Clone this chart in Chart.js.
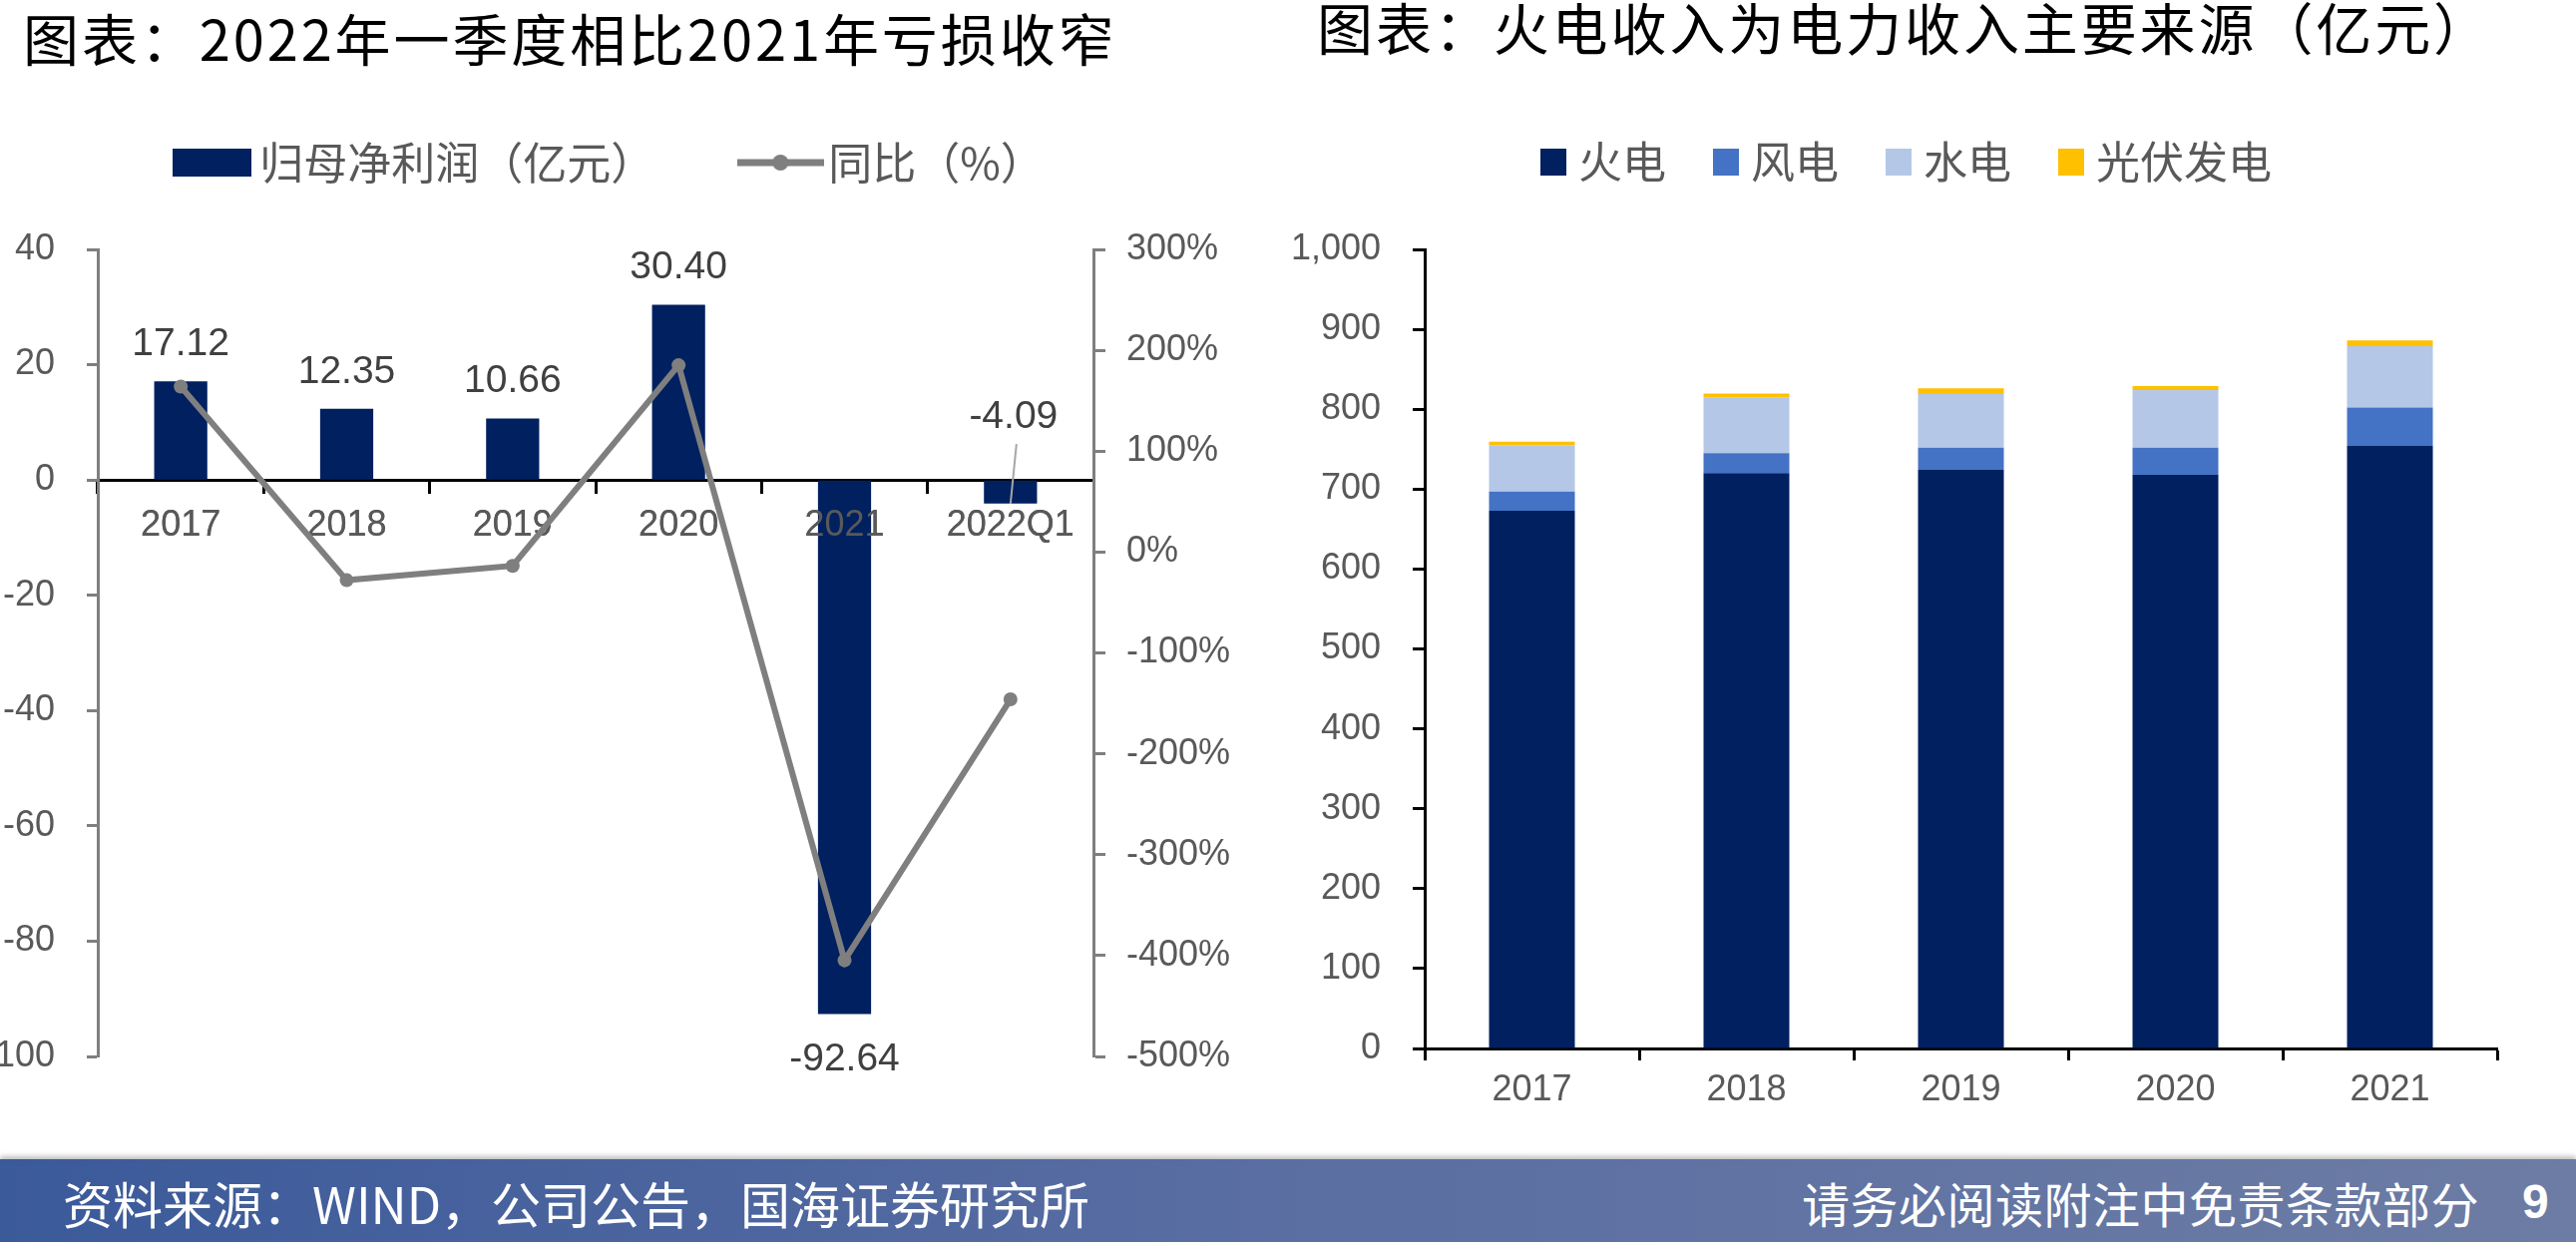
<!DOCTYPE html>
<html><head><meta charset="utf-8">
<script src="https://cdn.jsdelivr.net/npm/chart.js@4.4.0/dist/chart.umd.min.js"></script>
<style>
html,body{margin:0;padding:0;background:#fff;width:2582px;height:1245px;overflow:hidden;position:relative;font-family:"Noto Sans CJK SC",sans-serif;}
.title{position:absolute;font-size:56px;line-height:56px;color:#000;white-space:nowrap;}
#t1{left:23px;top:9px;letter-spacing:2.9px;}
#t2{left:1320px;top:-2px;letter-spacing:2.9px;}
canvas{position:absolute;top:0;}
#c1{left:0;}
#c2{left:1290px;}
#footer{position:absolute;left:0;top:1162px;width:2582px;height:83px;background:linear-gradient(to right,#3b5a9a,#5a6ea2 50%,#6c7ca4);box-shadow:0 -3px 5px rgba(0,0,0,0.25);}
.ft{position:absolute;color:#fff;font-size:50px;line-height:50px;white-space:nowrap;}
</style></head><body>
<div class="title" id="t1">图表：2022年一季度相比2021年亏损收窄</div>
<div class="title" id="t2">图表：火电收入为电力收入主要来源（亿元）</div>
<canvas id="c1" width="1240" height="1150"></canvas>
<canvas id="c2" width="1251" height="1150"></canvas>
<div id="footer">
  <div class="ft" style="left:63px;top:18px;">资料来源：WIND，公司公告，国海证券研究所</div>
  <div class="ft" style="left:1806px;top:19px;font-size:48px;line-height:48px;letter-spacing:0.5px;">请务必阅读附注中免责条款部分</div>
  <div class="ft" style="left:2528px;top:19px;font-size:48px;line-height:48px;font-weight:bold;font-family:'Liberation Sans',Arial,sans-serif;">9</div>
</div>
<script>
// ---------- data: left chart ----------
const profitCategories = ['2017', '2018', '2019', '2020', '2021', '2022Q1'];
const netProfit = [17.12, 12.35, 10.66, 30.40, -92.64, -4.09];
const yoyPct = [164, -27.9, -13.7, 185.2, -404.7, -146];
const profitSeriesNames = ['归母净利润（亿元）', '同比（%）'];
const leftAxisRange = [-100, 40, 20];
const rightAxisRange = [-500, 300, 100];

// ---------- data: right chart ----------
const revenueYears = ['2017', '2018', '2019', '2020', '2021'];
const thermalRev = [673, 720, 724, 718, 754];
const windRev = [24, 25, 28, 34, 48];
const hydroRev = [58, 70, 67, 72, 77];
const solarRev = [4.5, 4.5, 7, 5, 7];
const revenueSeriesNames = ['火电', '风电', '水电', '光伏发电'];
const revenueAxisRange = [0, 1000, 100];

Chart.defaults.font.family = '"Liberation Sans", Arial, sans-serif';
Chart.defaults.animation = false;

const NAVY = '#002060', GRAY = '#7f7f7f', TICK = '#595959';

function makeImg(w, h, draw) {
  const c = document.createElement('canvas');
  c.width = w; c.height = h;
  draw(c.getContext('2d'), w, h);
  return c;
}
const barLegendImg = makeImg(79, 28, (g, w, h) => { g.fillStyle = NAVY; g.fillRect(0, 0, w, h); });
const lineLegendImg = makeImg(87, 20, (g, w, h) => {
  g.strokeStyle = GRAY; g.lineWidth = 7;
  g.beginPath(); g.moveTo(0, h / 2); g.lineTo(w, h / 2); g.stroke();
  g.fillStyle = GRAY; g.beginPath(); g.arc(w / 2, h / 2, 8, 0, Math.PI * 2); g.fill();
});
const revColors = ['#002060', '#4472C4', '#B4C7E7', '#FFC000'];
const revLegendImgs = revColors.map(col => makeImg(26, 27, (g, w, h) => { g.fillStyle = col; g.fillRect(0, 0, w, h); }));

function legendMargin(extra) {
  return {
    id: 'legendMargin',
    beforeInit(chart) {
      const fit = chart.legend.fit;
      chart.legend.fit = function () { fit.bind(chart.legend)(); this.height += extra; };
    }
  };
}

// category labels are painted over the bars (but under the line), as in the original
const labelsOverBars = {
  id: 'labelsOverBars',
  afterDatasetDraw(chart, args) {
    if (args.index === 0) chart.scales.x.drawLabels(chart.chartArea);
  }
};

const barLabels = {
  id: 'barLabels',
  afterDatasetsDraw(chart) {
    const meta = chart.getDatasetMeta(0);
    const ctx = chart.ctx;
    const zero = chart.scales.y.getPixelForValue(0);
    ctx.save();
    ctx.font = '39px "Liberation Sans", Arial, sans-serif';
    ctx.fillStyle = '#404040';
    ctx.textAlign = 'center';
    ctx.textBaseline = 'middle';
    meta.data.forEach((bar, i) => {
      const v = netProfit[i];
      const txt = v.toFixed(2);
      if (v >= 0) {
        ctx.fillText(txt, bar.x, bar.y - 37);
      } else if (bar.y - zero > 60) {
        ctx.fillText(txt, bar.x, bar.y + 46);
      } else {
        ctx.fillText(txt, bar.x + 3, zero - 63);
        ctx.strokeStyle = '#a6a6a6'; ctx.lineWidth = 2;
        ctx.beginPath(); ctx.moveTo(bar.x + 6, zero - 36); ctx.lineTo(bar.x, zero + 24); ctx.stroke();
      }
    });
    ctx.restore();
  }
};

const tickFont = { size: 36 };
const legendFont = { size: 44, family: '"Noto Sans CJK SC", sans-serif' };

// ---------- left chart ----------
new Chart(document.getElementById('c1'), {
  type: 'bar',
  data: {
    labels: profitCategories,
    datasets: [
      { label: profitSeriesNames[0], data: netProfit, backgroundColor: NAVY, yAxisID: 'y',
        categoryPercentage: 1, barPercentage: 0.32, order: 2 },
      { type: 'line', label: profitSeriesNames[1], data: yoyPct, yAxisID: 'y1', borderColor: GRAY,
        backgroundColor: GRAY, borderWidth: 6, pointRadius: 7, pointBackgroundColor: GRAY,
        pointBorderWidth: 0, tension: 0, order: 1 }
    ]
  },
  options: {
    responsive: false,
    layout: { padding: { top: 41, right: 7, bottom: 91, left: 0 } },
    plugins: {
      tooltip: { enabled: false },
      legend: {
        position: 'top',
        labels: {
          usePointStyle: true, pointStyleWidth: 52, padding: 100, color: TICK, font: legendFont,
          sort: (a, b) => a.datasetIndex - b.datasetIndex,
          generateLabels(chart) {
            const items = Chart.defaults.plugins.legend.labels.generateLabels(chart);
            items.forEach(it => { it.pointStyle = it.datasetIndex === 0 ? barLegendImg : lineLegendImg; it.fontColor = TICK; });
            return items;
          }
        }
      }
    },
    scales: {
      x: {
        position: { y: 0 }, offset: true,
        grid: { offset: true, drawOnChartArea: false, drawTicks: true, tickLength: 12, color: '#000', tickColor: '#000', tickWidth: 3, lineWidth: 3 },
        border: { display: true, color: '#000', width: 3 },
        ticks: { color: TICK, font: tickFont, padding: 12, maxRotation: 0, autoSkip: false }
      },
      y: {
        position: 'left', min: leftAxisRange[0], max: leftAxisRange[1],
        ticks: { stepSize: leftAxisRange[2], color: TICK, font: tickFont, padding: 32 },
        grid: { drawOnChartArea: false, tickLength: 11, color: GRAY, tickColor: GRAY, tickWidth: 3 },
        border: { color: GRAY, width: 3 },
        afterFit(s) { s.width = 98; }
      },
      y1: {
        position: 'right', min: rightAxisRange[0], max: rightAxisRange[1],
        ticks: { stepSize: rightAxisRange[2], color: TICK, font: tickFont, padding: 21, callback: v => v + '%' },
        grid: { drawOnChartArea: false, tickLength: 12, color: GRAY, tickColor: GRAY, tickWidth: 3 },
        border: { color: GRAY, width: 3 },
        afterFit(s) { s.width = 137; }
      }
    }
  },
  plugins: [legendMargin(55), labelsOverBars, barLabels]
});

// ---------- right chart ----------
const revSeries = [thermalRev, windRev, hydroRev, solarRev];
new Chart(document.getElementById('c2'), {
  type: 'bar',
  data: {
    labels: revenueYears,
    datasets: revSeries.map((d, i) => ({
      label: revenueSeriesNames[i], data: d, backgroundColor: revColors[i],
      categoryPercentage: 1, barPercentage: 0.4
    }))
  },
  options: {
    responsive: false,
    layout: { padding: { top: 83, right: 0, bottom: 0, left: 0 } },
    plugins: {
      tooltip: { enabled: false },
      legend: {
        position: 'top',
        labels: {
          usePointStyle: true, pointStyleWidth: 6, padding: 57, color: TICK, font: legendFont,
          generateLabels(chart) {
            const items = Chart.defaults.plugins.legend.labels.generateLabels(chart);
            items.forEach(it => { it.pointStyle = revLegendImgs[it.datasetIndex]; it.fontColor = TICK; });
            return items;
          }
        }
      }
    },
    scales: {
      x: {
        stacked: true, position: 'bottom',
        grid: { offset: true, drawOnChartArea: false, tickLength: 12, color: '#000', tickColor: '#000', tickWidth: 3 },
        border: { color: '#000', width: 3 },
        ticks: { color: TICK, font: tickFont, padding: 8, maxRotation: 0 },
        afterFit(s) { s.height = 99; }
      },
      y: {
        stacked: true, min: revenueAxisRange[0], max: revenueAxisRange[1],
        ticks: { stepSize: revenueAxisRange[2], color: TICK, font: tickFont, padding: 32 },
        grid: { drawOnChartArea: false, tickLength: 12, color: '#000', tickColor: '#000', tickWidth: 3 },
        border: { color: '#000', width: 3 },
        afterFit(s) { s.width = 138; }
      },
      yR: {
        position: 'right', display: true,
        grid: { display: false }, border: { display: false }, ticks: { display: false },
        afterFit(s) { s.width = 38; }
      }
    }
  },
  plugins: [legendMargin(56)]
});
</script>
</body></html>
